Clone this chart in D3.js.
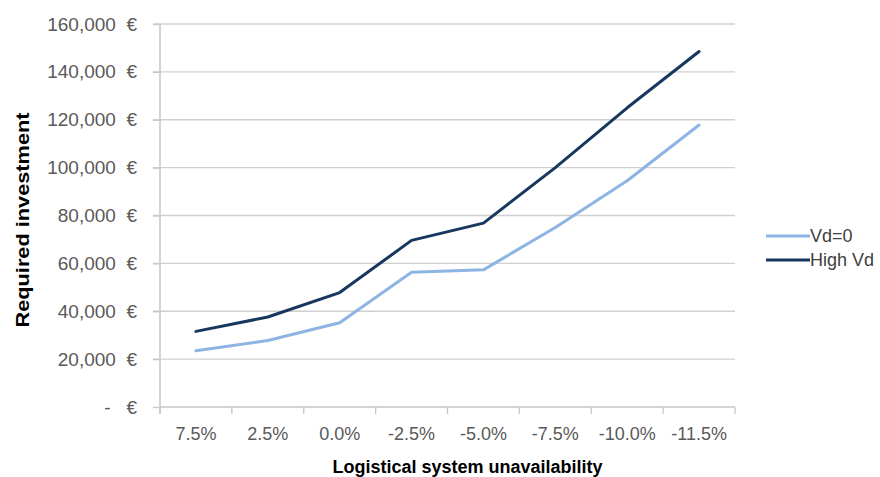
<!DOCTYPE html>
<html>
<head>
<meta charset="utf-8">
<script src="https://cdn.jsdelivr.net/npm/d3@7"></script>
<style>
  html, body { margin: 0; padding: 0; background: #fff; }
  svg { display: block; font-family: "Liberation Sans", Arial, sans-serif; }
</style>
</head>
<body>
<svg id="chart" width="880" height="477"></svg>
<script>
// Scenario categories along the x axis
const categories = ["7.5%", "2.5%", "0.0%", "-2.5%", "-5.0%", "-7.5%", "-10.0%", "-11.5%"];
// Required investment (€) per scenario
const vdZero = [23500, 27800, 35200, 56300, 57300, 75000, 94500, 117800];
const highVd = [31600, 37600, 47800, 69600, 76800, 100000, 125000, 148500];
const seriesNames = ["Vd=0", "High Vd"];
const yTicks = [0, 20000, 40000, 60000, 80000, 100000, 120000, 140000, 160000];

const colors = ["#8db4e2", "#17375e"];

const svg = d3.select("#chart");
const plotL = 160, plotR = 735, plotT = 24, plotB = 407;

const x = d3.scaleBand().domain(categories).range([plotL, plotR]);
const y = d3.scaleLinear().domain([0, 160000]).range([plotB, plotT]);

// Horizontal gridlines
svg.append("g")
  .selectAll("line")
  .data(yTicks.filter(d => d > 0))
  .join("line")
  .attr("x1", plotL - 7).attr("x2", plotR)
  .attr("y1", d => y(d)).attr("y2", d => y(d))
  .attr("stroke", "#d0d0d0").attr("stroke-width", 1.3);

// Y axis (accounting-style labels)
const fmt = d3.format(",");
const yAxis = svg.append("g")
  .attr("transform", `translate(${plotL},0)`)
  .call(d3.axisLeft(y).tickValues(yTicks).tickSize(7).tickPadding(16)
    .tickFormat(d => d === 0 ? "-\u00a0\u00a0\u00a0€" : fmt(d) + "\u00a0\u00a0€"));
yAxis.select(".domain").attr("stroke", "#c6c6c6").attr("stroke-width", 1.5)
  .attr("d", `M0,${plotT}V${plotB + 7}`);
yAxis.selectAll(".tick line").attr("stroke", "#c6c6c6").attr("stroke-width", 1.3);
yAxis.selectAll(".tick text").attr("fill", "#595959").attr("font-size", 19);

// X axis with tick marks at category boundaries
const xAxis = svg.append("g")
  .attr("transform", `translate(0,${plotB})`)
  .call(d3.axisBottom(x).tickSize(0).tickPadding(20));
xAxis.select(".domain").attr("stroke", "#c6c6c6").attr("stroke-width", 1.5)
  .attr("d", `M${plotL},0H${plotR}`);
xAxis.selectAll(".tick text").attr("fill", "#595959").attr("font-size", 18);
const bounds = categories.map(c => x(c)).concat([x(categories[categories.length - 1]) + x.bandwidth()]);
xAxis.append("g").selectAll("line")
  .data(bounds)
  .join("line")
  .attr("x1", d => d).attr("x2", d => d)
  .attr("y1", 0).attr("y2", 7)
  .attr("stroke", "#c6c6c6").attr("stroke-width", 1.3);

// Series lines
const line = d3.line()
  .x((d, i) => x(categories[i]) + x.bandwidth() / 2)
  .y(d => y(d));

[vdZero, highVd].forEach((vals, k) => {
  svg.append("path")
    .datum(vals)
    .attr("d", line)
    .attr("fill", "none")
    .attr("stroke", colors[k])
    .attr("stroke-width", 3)
    .attr("stroke-linejoin", "round")
    .attr("stroke-linecap", "round");
});

// Axis titles
svg.append("text")
  .attr("x", (plotL + plotR) / 2 + 20).attr("y", 473)
  .attr("text-anchor", "middle")
  .attr("font-size", 18).attr("font-weight", "bold").attr("fill", "#000")
  .text("Logistical system unavailability");

svg.append("text")
  .attr("transform", "translate(29,220) rotate(-90)")
  .attr("text-anchor", "middle")
  .attr("font-size", 18).attr("font-weight", "bold").attr("fill", "#000")
  .attr("textLength", 215).attr("lengthAdjust", "spacingAndGlyphs")
  .text("Required investment");

// Legend
const legend = svg.append("g");
seriesNames.forEach((name, k) => {
  const ly = 236 + k * 24;
  legend.append("line")
    .attr("x1", 766).attr("x2", 810)
    .attr("y1", ly).attr("y2", ly)
    .attr("stroke", colors[k]).attr("stroke-width", 3);
  legend.append("text")
    .attr("x", 810).attr("y", ly).attr("dy", "0.35em")
    .attr("font-size", 18).attr("fill", "#404040")
    .text(name);
});
</script>
</body>
</html>
